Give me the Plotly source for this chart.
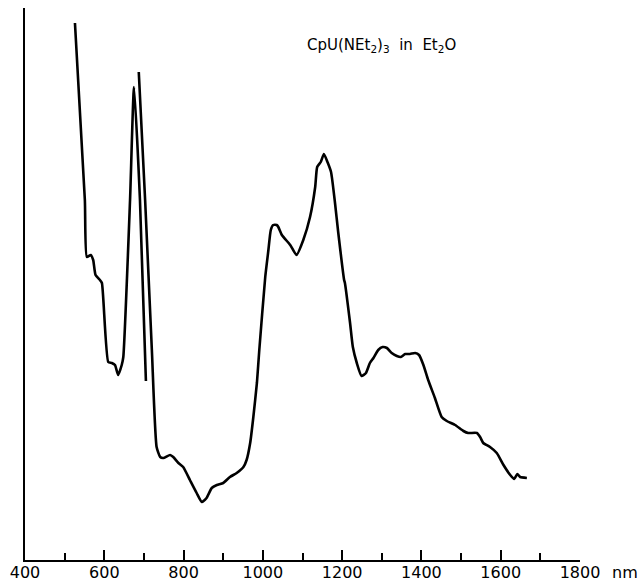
import plotly.graph_objects as go

# Segment 1 (short-wavelength trace, 520-705 nm)
wl_a = [526, 551, 556, 566, 572, 578, 589, 594, 610, 619, 627, 635, 644, 648, 665, 675, 690, 705]
abs_a = [537, 360, 303, 305, 300, 285, 280, 277, 198, 197, 195, 185, 195, 203, 360, 473, 360, 179]

# Segment 2 (main trace, 687-1666 nm)
wl_b = [687, 703, 720, 732, 741, 749, 766, 774, 787, 799, 816, 833, 846, 858, 871, 884, 900, 917,
        934, 951, 959, 968, 976, 985, 991, 1006, 1014, 1020, 1026, 1035, 1039, 1048, 1069, 1085,
        1102, 1119, 1132, 1137, 1146, 1154, 1163, 1172, 1182, 1190, 1205, 1207, 1220, 1227, 1237,
        1249, 1260, 1270, 1279, 1291, 1302, 1313, 1325, 1338, 1348, 1359, 1371, 1384, 1394, 1405,
        1417, 1434, 1451, 1464, 1485, 1506, 1518, 1540, 1548, 1556, 1573, 1590, 1607, 1624, 1634,
        1642, 1649, 1666]
abs_b = [488, 360, 210, 113, 103, 102, 105, 103, 97, 93, 80, 67, 58, 62, 72, 75, 77, 83,
         87, 93, 100, 117, 143, 177, 210, 283, 310, 330, 335, 335, 333, 325, 315, 305,
         320, 343, 373, 393, 398, 406, 398, 388, 357, 328, 280, 277, 237, 213, 197,
         184, 187, 197, 202, 210, 213, 212, 207, 204, 203, 206, 206, 207, 205, 195,
         180, 162, 143, 139, 135, 129, 127, 127, 123, 117, 113, 107, 95, 85, 81,
         86, 83, 82]

x_ticks = [400, 600, 800, 1000, 1200, 1400, 1600, 1800]
x_ticklabels = ["400", "600", "800", "1000", "1200", "1400", "1600", "1800"]

fig = go.Figure()
line_style = dict(color="black", width=2.6, shape="spline", smoothing=0.5)
fig.add_trace(go.Scatter(x=wl_a, y=abs_a, mode="lines", line=line_style, showlegend=False))
fig.add_trace(go.Scatter(x=wl_b, y=abs_b, mode="lines", line=line_style, showlegend=False))

fig.update_layout(
    width=640, height=581,
    margin=dict(l=25, r=60, t=8, b=21, autoexpand=False),
    paper_bgcolor="white", plot_bgcolor="white",
    font=dict(family="DejaVu Sans", color="black"),
    xaxis=dict(
        range=[400, 1800], tickmode="array", tickvals=x_ticks, ticktext=x_ticklabels,
        ticks="inside", ticklen=10, tickwidth=2, tickcolor="black",
        showline=True, linecolor="black", linewidth=2,
        showgrid=False, zeroline=False, automargin=False,
        tickfont=dict(family="DejaVu Sans", size=16, color="black"),
        ticklabelstandoff=-3,
        minor=dict(dtick=100, tick0=400, ticks="inside", ticklen=7, tickwidth=2,
                   tickcolor="black", showgrid=False),
    ),
    yaxis=dict(
        range=[0, 552], showticklabels=False, ticks="",
        showline=True, linecolor="black", linewidth=2,
        showgrid=False, zeroline=False, automargin=False,
    ),
    annotations=[
        dict(text="CpU(NEt<sub>2</sub>)<sub>3</sub>  in  Et<sub>2</sub>O",
             x=1106, y=515, xref="x", yref="y", xanchor="left", yanchor="middle",
             showarrow=False, font=dict(family="DejaVu Sans", size=15, color="black")),
        dict(text="nm", x=(625 - 25) / 555, y=(560 - 572) / 552, xref="paper", yref="paper",
             xanchor="center", yanchor="middle", showarrow=False,
             font=dict(family="DejaVu Sans", size=16, color="black")),
    ],
)

fig.write_html(
    "out.html",
    config={"displayModeBar": False},
    post_script="document.body.style.margin='0';document.body.style.overflow='hidden';",
)
